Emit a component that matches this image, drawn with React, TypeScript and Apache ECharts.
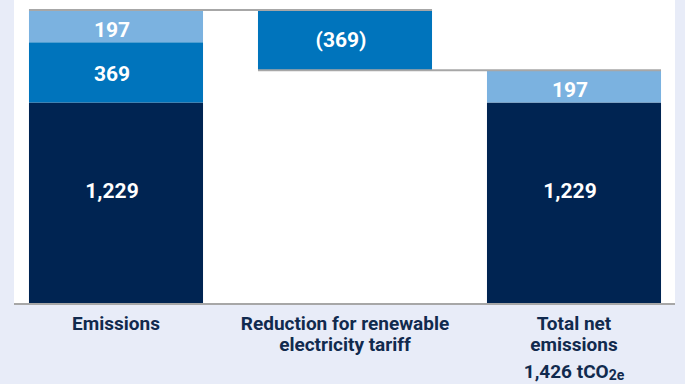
import React, { useEffect, useRef } from "react";
import * as echarts from "echarts";

const categories = ["Emissions", "Reduction for renewable\nelectricity tariff", "Total net\nemissions"];
const netLabelValue = "1,426 tCO";
const netLabelSub = "2e";
const darkSegment = [1229, null, 1229];
const midSegment = [369, 369, null];
const lightSegment = [197, null, 197];
const reductionIndex = 1;

const NAVY = "#002452";
const BLUE = "#0074bc";
const LIGHT = "#7bb2e0";
const BG = "#e8ecf8";
const TEXT = "#112a4e";
const GRAY = "#a7a7a7";

export default function App() {
  const ref = useRef<HTMLDivElement>(null);
  useEffect(() => {
    document.body.style.margin = "0";
    if (!ref.current) return;
    const chart = echarts.init(ref.current, null, { renderer: "svg" });
    const grossTotal = (darkSegment[0] || 0) + (midSegment[0] || 0) + (lightSegment[0] || 0);
    const reduction = midSegment[reductionIndex] || 0;
    const netTotal = grossTotal - reduction;
    const baseValues = categories.map((_, i) => (i === reductionIndex ? netTotal : 0));
    const connectors = [
      [0, 1, grossTotal],
      [1, 2, netTotal],
    ];
    const labelBase = {
      show: true,
      position: "inside",
      color: "#ffffff",
      fontFamily: "Roboto",
      fontWeight: "bold",
      fontSize: 21,
    };
    const option = {
      animation: false,
      backgroundColor: BG,
      grid: { left: 1.5, width: 687, top: 10, bottom: 81, outerBoundsMode: "none", containLabel: false },
      graphic: [
        { type: "rect", z: -10, silent: true, shape: { x: 14, y: 0, width: 661, height: 303 }, style: { fill: "#ffffff" } },
        { type: "line", z: -5, silent: true, shape: { x1: 14, y1: 304, x2: 675, y2: 304 }, style: { stroke: GRAY, lineWidth: 2 } },
      ],
      xAxis: {
        type: "category",
        data: categories,
        axisLine: { show: false },
        axisTick: { show: false },
        axisLabel: {
          margin: 10,
          interval: 0,
          color: TEXT,
          fontFamily: "Roboto",
          fontWeight: "bold",
          fontSize: 19,
          lineHeight: 21,
          formatter: (v: string, i: number) =>
            i === 2 ? `${v}\n{gap| }\n{v|${netLabelValue}}{s|${netLabelSub}}` : v,
          rich: {
            gap: { fontSize: 1, lineHeight: 4 },
            v: { color: TEXT, fontFamily: "Roboto", fontWeight: "bold", fontSize: 19, lineHeight: 24 },
            s: { color: TEXT, fontFamily: "Roboto", fontWeight: "bold", fontSize: 14, lineHeight: 16, padding: [8, 0, 0, 0] },
          },
        },
      },
      yAxis: { type: "value", min: 0, max: grossTotal, show: false, splitLine: { show: false } },
      series: [
        {
          type: "bar",
          stack: "s",
          barWidth: "76%",
          data: baseValues,
          itemStyle: { color: "transparent" },
          silent: true,
        },
        {
          type: "bar",
          stack: "s",
          data: darkSegment.map((v) => (v == null ? "-" : v)),
          itemStyle: { color: NAVY },
          label: { ...labelBase, offset: [-4, -12], formatter: (p: any) => p.value.toLocaleString("en-US") },
        },
        {
          type: "bar",
          stack: "s",
          data: midSegment.map((v, i) =>
            v == null
              ? "-"
              : { value: v, label: { offset: i === reductionIndex ? [-4, 0] : [-4, 2] } }
          ),
          itemStyle: { color: BLUE },
          label: {
            ...labelBase,
            formatter: (p: any) =>
              p.dataIndex === reductionIndex ? `(${p.value.toLocaleString("en-US")})` : p.value.toLocaleString("en-US"),
          },
        },
        {
          type: "bar",
          stack: "s",
          data: lightSegment.map((v) => (v == null ? "-" : v)),
          itemStyle: { color: LIGHT },
          label: { ...labelBase, offset: [-4, 4], formatter: (p: any) => p.value.toLocaleString("en-US") },
        },
        {
          type: "custom",
          z: 5,
          silent: true,
          encode: { x: [0, 1], y: 2 },
          data: connectors,
          renderItem: (params: any, api: any) => {
            const band = api.size([1, 0])[0];
            const half = (band * 0.76) / 2;
            const p1 = api.coord([api.value(0), api.value(2)]);
            const p2 = api.coord([api.value(1), api.value(2)]);
            return {
              type: "line",
              shape: { x1: p1[0] - half, y1: p1[1], x2: p2[0] + half, y2: p2[1] },
              style: { stroke: GRAY, lineWidth: 2 },
            };
          },
        },
      ],
    };
    chart.setOption(option as any);
    return () => chart.dispose();
  }, []);
  return <div ref={ref} style={{ width: 685, height: 384 }} />;
}
